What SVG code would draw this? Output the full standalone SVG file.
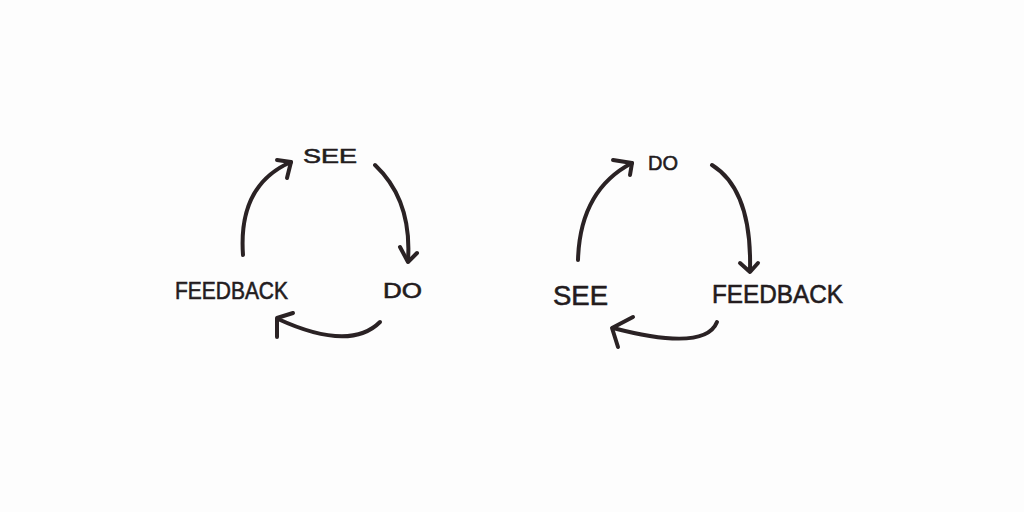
<svg xmlns="http://www.w3.org/2000/svg" width="1024" height="512" viewBox="0 0 1024 512">
<style>
.lbl{font-family:"Liberation Sans","DejaVu Sans",sans-serif;fill:#231c1e;stroke:#231c1e;stroke-width:0.6;}
.arc{fill:none;stroke:#2a2224;stroke-width:4;stroke-linecap:round;stroke-linejoin:round;}
</style>
<rect width="1024" height="512" fill="#fdfdfd"/>
<g id="cycle-left">
<g id="left-see"><text class="lbl" x="303" y="163" font-size="21" textLength="54" lengthAdjust="spacingAndGlyphs">SEE</text></g>
<g id="left-do"><text class="lbl" x="383" y="298" font-size="22" textLength="39" lengthAdjust="spacingAndGlyphs">DO</text></g>
<g id="left-feedback"><text class="lbl" x="175" y="299" font-size="24" textLength="113" lengthAdjust="spacingAndGlyphs">FEEDBACK</text></g>
</g>
<g id="cycle-right">
<g id="right-do"><text class="lbl" x="648" y="170" font-size="21" textLength="30" lengthAdjust="spacingAndGlyphs">DO</text></g>
<g id="right-feedback"><text class="lbl" x="712" y="303" font-size="26" textLength="131" lengthAdjust="spacingAndGlyphs">FEEDBACK</text></g>
<g id="right-see"><text class="lbl" x="553" y="305" font-size="27" textLength="55" lengthAdjust="spacingAndGlyphs">SEE</text></g>
</g>
<g id="connectors">
<path class="arc" d="M375 165 Q412 200 408 260"/>
<path class="arc" d="M400 247 L408 262 L417 253"/>
<path class="arc" d="M380 322 Q350 352 278 319"/>
<path class="arc" d="M293 313 L277 318 L277 337"/>
<path class="arc" d="M243 255 Q238 185 291 162"/>
<path class="arc" d="M277 160 L291 162 L287 178"/>
<path class="arc" d="M712 165 Q752 190 750 270"/>
<path class="arc" d="M740 263 L750 272 L758 263"/>
<path class="arc" d="M717 322 Q705 352 613 328"/>
<path class="arc" d="M633 317 L612 328 L618 347"/>
<path class="arc" d="M578 260 Q580 190 632 163"/>
<path class="arc" d="M613 160 L632 163 L630 175"/>
</g>
</svg>
